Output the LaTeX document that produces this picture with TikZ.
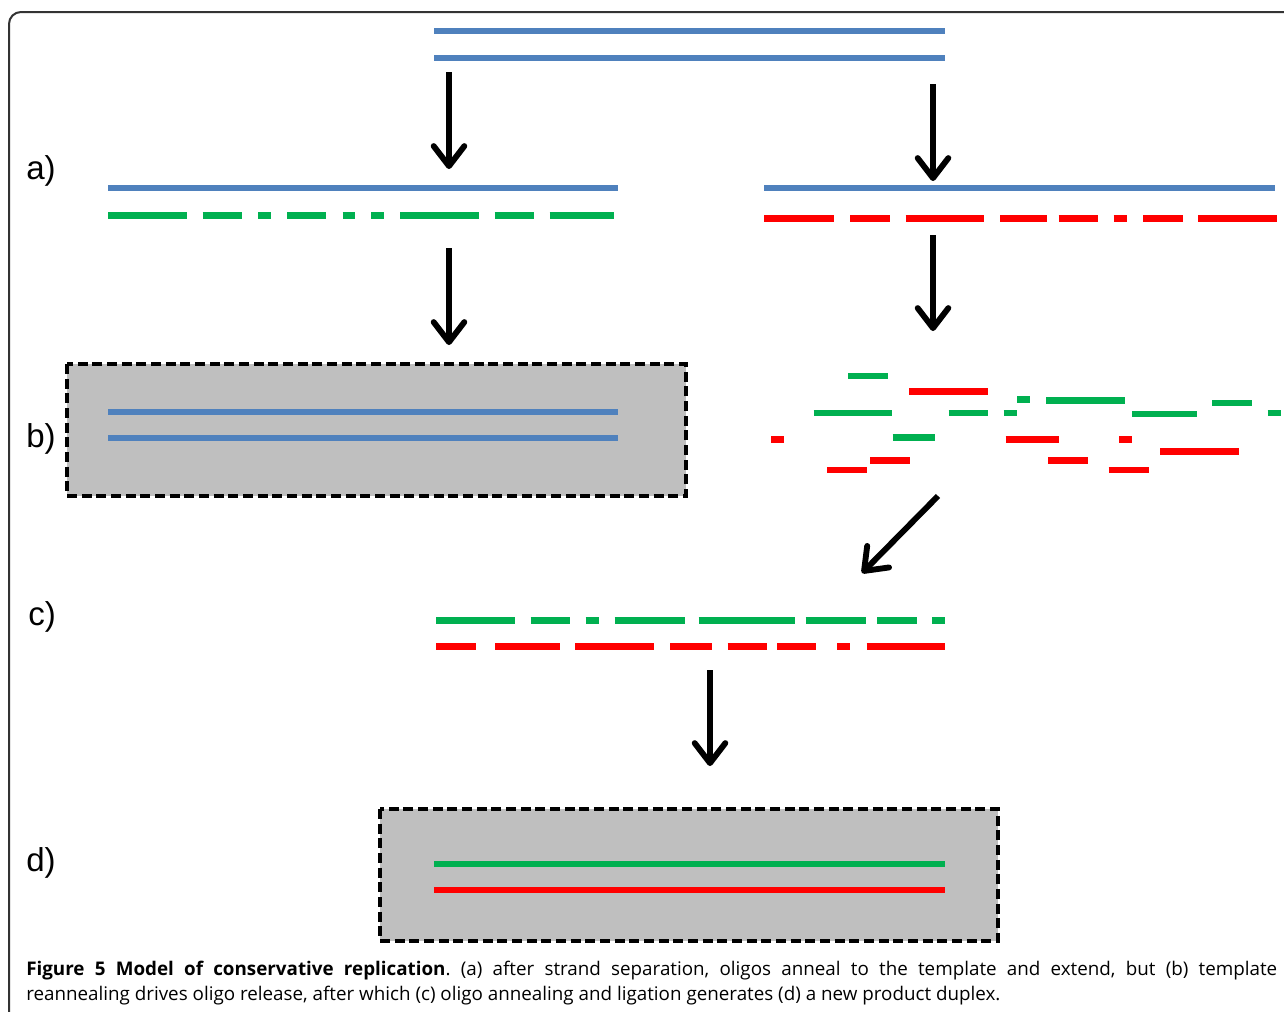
\documentclass[tikz,border=0pt]{standalone}
\usepackage{fontspec}
\setmainfont{Open Sans}
\newfontfamily\labfont{Liberation Sans}
\usetikzlibrary{arrows.meta}
\definecolor{dnablue}{HTML}{4F81BD}
\definecolor{dnagreen}{HTML}{00B050}
\definecolor{dnared}{HTML}{FF0000}
\definecolor{boxgray}{HTML}{BFBFBF}
\definecolor{framegray}{HTML}{333333}
\frenchspacing
\tikzset{
  strand/.style={line width=4.7pt, line cap=butt},
  bluestrand/.style={strand, draw=dnablue},
  greenstrand/.style={strand, draw=dnagreen},
  redstrand/.style={strand, draw=dnared},
  bigarrow/.style={line width=4.4pt, draw=black, -{Straight Barb[length=15pt, width=23pt, round]}},
  duplexbox/.style={draw=black, fill=boxgray, line width=2.6pt, dash pattern=on 7.5pt off 3.5pt},
  steplabel/.style={font=\labfont\fontsize{24.8pt}{28pt}\selectfont, anchor=west, inner sep=0pt},
  captext/.style={font=\fontsize{14.1pt}{17pt}\selectfont, anchor=base west, inner sep=0pt}
}
\begin{document}
\begin{tikzpicture}[x=0.75pt, y=-0.75pt]
\useasboundingbox (0,0) rectangle (1284,1011);
% outer frame
\draw[framegray, line width=1.5pt, rounded corners=9pt] (9,1030) -- (9,12) -- (1300,12);

% top duplex
\draw[bluestrand] (434,31) -- (945,31);
\draw[bluestrand] (434,58) -- (945,58);

% a) left
\draw[bluestrand] (108,188) -- (618,188);
\foreach \a/\b in {108/186.5, 202.5/241.5, 258/270.5, 287/326, 342.5/355, 371/384, 400/478.5, 494.5/534, 549.5/614}
  \draw[greenstrand] (\a,215.5) -- (\b,215.5);

% a) right
\draw[bluestrand] (764,188) -- (1275,188);
\foreach \a/\b in {764/834, 850/889.5, 905.5/984, 1000/1047, 1058.5/1097.5, 1113.5/1126.5, 1143/1182.5, 1198/1277}
  \draw[redstrand] (\a,218.5) -- (\b,218.5);

% b) left box
\draw[duplexbox] (67,364) rectangle (686,496);
\draw[bluestrand] (108,412) -- (618,412);
\draw[bluestrand] (108,438) -- (618,438);

% b) right fragments
\foreach \a/\b/\y in {848/887.5/376, 813.5/892/413, 948.5/988/413, 1003.5/1017/413, 1017/1030/399.5, 1046/1124.5/400.5, 1132/1196.5/414, 1212/1251.5/403, 1267.5/1281/413, 892.5/935/437.5}
  \draw[greenstrand] (\a,\y) -- (\b,\y);
\foreach \a/\b/\y in {909/988/391.5, 771/784/439.5, 1005.5/1059/439.5, 1119/1132/439.5, 1160/1238.5/451.5, 870/910/460.5, 1048/1087.5/460.5, 827/866.5/470, 1108.5/1148.5/470}
  \draw[redstrand] (\a,\y) -- (\b,\y);

% c)
\foreach \a/\b in {436/514.5, 530.5/569.5, 585.5/598.5, 614.5/685, 698.5/795, 805.5/865.5, 877/916.5, 932/945}
  \draw[greenstrand] (\a,620.5) -- (\b,620.5);
\foreach \a/\b in {436/475.5, 495/559.5, 575/653.5, 670/711.5, 727.5/766.5, 777/816, 837/850, 866.5/945}
  \draw[redstrand] (\a,646.5) -- (\b,646.5);

% d) box
\draw[duplexbox] (380,809) rectangle (998,941);
\draw[greenstrand] (434,864) -- (945,864);
\draw[redstrand] (434,890) -- (945,890);

% arrows
\coordinate (a1s) at (449,72);   \coordinate (a1e) at (449,169);
\coordinate (a2s) at (933,84);   \coordinate (a2e) at (933,181);
\coordinate (a3s) at (449,248);  \coordinate (a3e) at (449,345);
\coordinate (a4s) at (933,235);  \coordinate (a4e) at (933,331);
\coordinate (a5s) at (938,496);  \coordinate (a5e) at (862,573);
\coordinate (a6s) at (710,670);  \coordinate (a6e) at (710,766);
\draw[bigarrow] (a1s) -- (a1e);
\draw[bigarrow] (a2s) -- (a2e);
\draw[bigarrow] (a3s) -- (a3e);
\draw[bigarrow] (a4s) -- (a4e);
\draw[bigarrow] (a5s) -- (a5e);
\draw[bigarrow] (a6s) -- (a6e);

% labels
\node[steplabel] (la) at (26,171) {a)};
\node[steplabel] (lb) at (26,439) {b)};
\node[steplabel] (lc) at (28,617) {c)};
\node[steplabel] (ld) at (26,863) {d)};

% caption
\node[captext] (cap1) at (26,975) {\makebox[938.25pt][s]{\textbf{Figure 5 Model of conservative replication}. (a) after strand separation, oligos anneal to the template and extend, but (b) template}};
\node[captext] (cap2) at (26,1000) {reannealing drives oligo release, after which (c) oligo annealing and ligation generates (d) a new product duplex.};
\end{tikzpicture}
\end{document}
